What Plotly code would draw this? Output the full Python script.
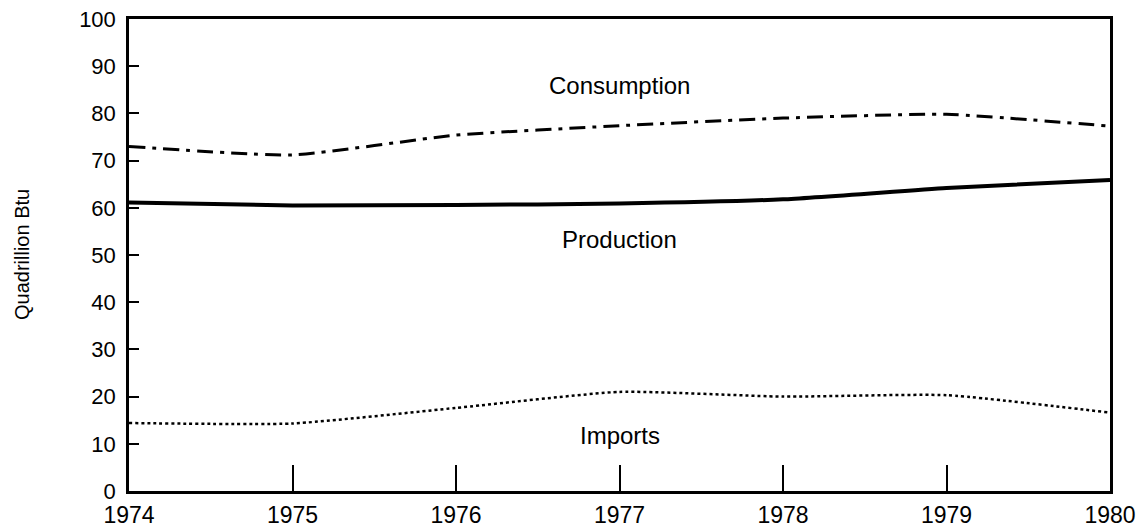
import plotly.graph_objects as go

years = [1974, 1975, 1976, 1977, 1978, 1979, 1980]
consumption = [73.0, 71.2, 75.4, 77.4, 79.0, 79.8, 77.3]
production = [61.1, 60.5, 60.6, 60.9, 61.8, 64.2, 65.9]
imports = [14.4, 14.3, 17.6, 21.0, 20.0, 20.3, 16.6]

ytick_vals = [0, 10, 20, 30, 40, 50, 60, 70, 80, 90, 100]
xtick_vals = years

fuente = "Liberation Sans, Arial, sans-serif"

fig = go.Figure()
fig.add_trace(go.Scatter(x=years, y=consumption, mode="lines",
                         line=dict(color="black", width=3, dash="16px,7px,4px,7px",
                                   shape="spline", smoothing=0.5)))
fig.add_trace(go.Scatter(x=years, y=production, mode="lines",
                         line=dict(color="black", width=4, shape="spline", smoothing=0.5)))
fig.add_trace(go.Scatter(x=years, y=imports, mode="lines",
                         line=dict(color="black", width=2.5, dash="dot",
                                   shape="spline", smoothing=0.5)))

# etiquetas de las series
fig.add_annotation(x=1977, y=86.0, text="Consumption", showarrow=False, font=dict(size=24))
fig.add_annotation(x=1977, y=53.2, text="Production", showarrow=False, font=dict(size=24))
fig.add_annotation(x=1977, y=11.8, text="Imports", showarrow=False, font=dict(size=24))

# titulo del eje y
fig.add_annotation(xref="paper", yref="paper", x=0, y=0.5, xanchor="center", yanchor="middle",
                   xshift=-107, textangle=-90, text="Quadrillion Btu", showarrow=False,
                   font=dict(size=20))

# la pagina tiene ~8px de margen en el body, se compensa aqui
fig.update_layout(
    width=1148, height=529,
    margin=dict(l=121, r=46, t=11, b=46),
    paper_bgcolor="white", plot_bgcolor="white",
    showlegend=False,
    font=dict(family=fuente, color="black", size=22),
)
fig.update_xaxes(range=[1974, 1980], tickvals=xtick_vals, ticks="inside", ticklen=26,
                 tickwidth=1.5, tickcolor="black", showgrid=False, zeroline=False,
                 showline=True, linecolor="black", linewidth=2.5, mirror=True,
                 tickfont=dict(size=23), ticklabelstandoff=2, ticklabeloverflow="allow",
                 automargin=False)
fig.update_yaxes(range=[0, 100], tickvals=ytick_vals, ticks="inside", ticklen=10,
                 tickwidth=2, tickcolor="black", showgrid=False, zeroline=False,
                 showline=True, linecolor="black", linewidth=2.5, mirror=True,
                 tickfont=dict(size=22), ticklabelstandoff=6, ticklabeloverflow="allow",
                 automargin=False)

fig.write_html("out.html", config={"displayModeBar": False})
